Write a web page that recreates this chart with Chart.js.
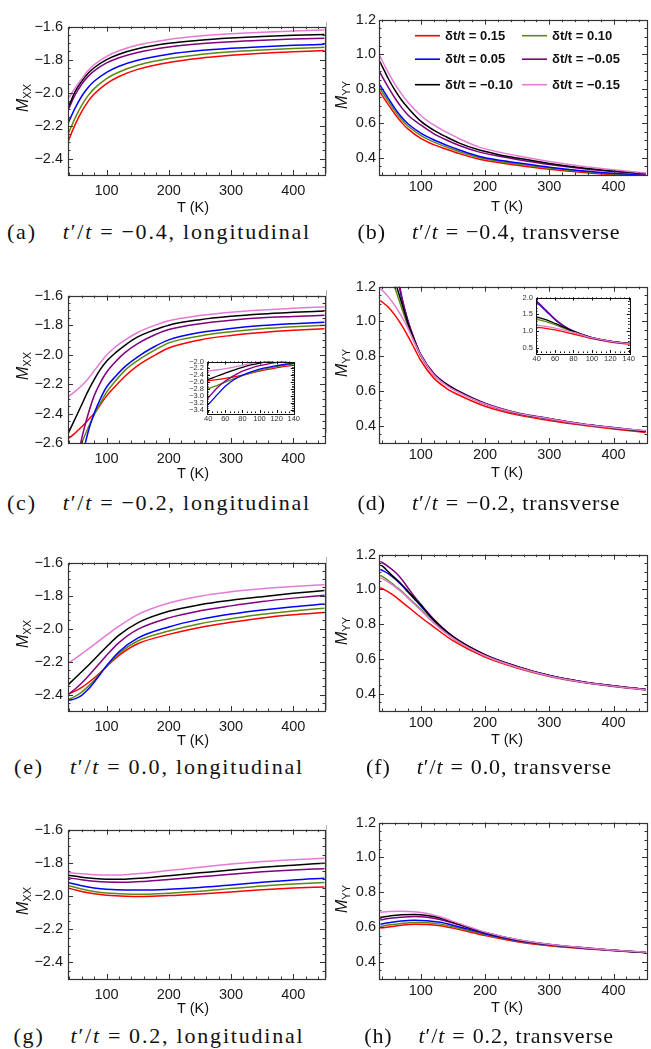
<!DOCTYPE html>
<html><head><meta charset="utf-8">
<script src="https://cdn.jsdelivr.net/npm/chart.js@4"></script>
<style>
html,body{margin:0;padding:0;background:#fff}
body{width:651px;height:1049px;position:relative;overflow:hidden;font-family:"Liberation Sans",Arial,sans-serif;color:#111}
canvas{position:absolute}
.cap{position:absolute;font-family:"Liberation Serif","Times New Roman",serif;font-size:22px;letter-spacing:0.9px;white-space:nowrap;transform:translate(-50%,-50%)}
.cap.wide{letter-spacing:1.8px}
.cap .lab{margin-right:26px}
.cap .eq{margin:0 7px}
.xl{position:absolute;font-size:14.5px;white-space:nowrap;transform:translate(-50%,-50%)}
.yl{position:absolute;font-size:16px;white-space:nowrap;transform:translate(-50%,-50%) rotate(-90deg)}
.yl sub{font-size:11px;font-style:normal;vertical-align:-3px}
.gl{position:absolute;width:1px;background:#b0b0b0}
</style></head><body>
<script>
// ---------- data ----------
const seriesLabels = ['δt/t = 0.15','δt/t = 0.10','δt/t = 0.05','δt/t = −0.05','δt/t = −0.10','δt/t = −0.15'];
const seriesColors = ['#ff0000','#5b8a12','#0000ff','#800080','#000000','#e67ad8'];

const xTicksMain = [100,200,300,400];
const xTicksInset = [40,60,80,100,120,140];
const yTicksXX = [-2.4,-2.2,-2.0,-1.8,-1.6];
const yTicksXXc = [-2.6,-2.4,-2.2,-2.0,-1.8,-1.6];
const yTicksYY = [0.4,0.6,0.8,1.0,1.2];
const yTicksInsetC = [-3.4,-3.2,-3.0,-2.8,-2.6,-2.4,-2.2,-2.0];
const yTicksInsetD = [0.5,1.0,1.5,2.0];

// (a) t'/t=-0.4 longitudinal
const T_a = [37,40,50,60,70,80,100,120,150,200,250,300,350,400,450];
const a_p15 = [-2.31,-2.28,-2.19,-2.116,-2.055,-2.009,-1.945,-1.902,-1.859,-1.817,-1.791,-1.774,-1.761,-1.752,-1.745];
const a_p10 = [-2.26,-2.235,-2.15,-2.078,-2.02,-1.976,-1.915,-1.875,-1.834,-1.793,-1.769,-1.752,-1.741,-1.732,-1.725];
const a_p05 = [-2.195,-2.17,-2.09,-2.022,-1.970,-1.931,-1.877,-1.840,-1.804,-1.767,-1.745,-1.731,-1.721,-1.713,-1.707];
const a_m05 = [-2.115,-2.09,-2.01,-1.949,-1.903,-1.868,-1.82,-1.788,-1.756,-1.723,-1.704,-1.691,-1.682,-1.675,-1.67];
const a_m10 = [-2.1,-2.075,-1.99,-1.931,-1.884,-1.849,-1.80,-1.767,-1.734,-1.701,-1.682,-1.669,-1.659,-1.652,-1.647];
const a_m15 = [-2.045,-2.027,-1.968,-1.917,-1.868,-1.831,-1.78,-1.746,-1.711,-1.677,-1.656,-1.643,-1.633,-1.626,-1.62];

// (b) t'/t=-0.4 transverse
const T_b = [35,40,50,60,70,80,100,120,140,160,190,220,250,300,350,400,450];
const b_p15 = [0.79,0.76,0.705,0.652,0.605,0.567,0.512,0.476,0.449,0.424,0.393,0.373,0.357,0.334,0.316,0.302,0.29];
const b_p10 = [0.811,0.781,0.724,0.67,0.622,0.584,0.53,0.492,0.462,0.435,0.401,0.38,0.364,0.34,0.321,0.306,0.294];
const b_p05 = [0.83,0.80,0.741,0.685,0.636,0.597,0.543,0.504,0.473,0.445,0.409,0.387,0.371,0.345,0.325,0.31,0.298];
const b_m05 = [0.905,0.87,0.805,0.745,0.692,0.648,0.59,0.54,0.503,0.471,0.434,0.41,0.39,0.361,0.338,0.32,0.305];
const b_m10 = [0.965,0.93,0.855,0.79,0.735,0.69,0.612,0.56,0.52,0.485,0.446,0.419,0.398,0.367,0.342,0.323,0.308];
const b_m15 = [1.0,0.962,0.89,0.825,0.77,0.722,0.645,0.59,0.548,0.51,0.463,0.434,0.411,0.378,0.351,0.33,0.312];

// (c) t'/t=-0.2 longitudinal
const T_c = [37,40,50,60,70,80,90,100,115,130,150,175,200,250,300,350,400,450];
const c_p15 = [-2.57,-2.565,-2.53,-2.49,-2.445,-2.4,-2.34,-2.28,-2.21,-2.145,-2.075,-2.01,-1.955,-1.9,-1.87,-1.85,-1.835,-1.824];
const c_p10 = [-2.85,-2.8,-2.7,-2.6,-2.5,-2.41,-2.33,-2.255,-2.175,-2.105,-2.04,-1.975,-1.92,-1.873,-1.845,-1.825,-1.811,-1.8];
const c_p05 = [-3.3,-3.25,-2.98,-2.72,-2.53,-2.4,-2.3,-2.22,-2.145,-2.08,-2.015,-1.95,-1.9,-1.85,-1.823,-1.803,-1.79,-1.78];
const c_m05 = [-3.1,-3.05,-2.78,-2.57,-2.41,-2.28,-2.19,-2.12,-2.045,-1.985,-1.925,-1.87,-1.83,-1.79,-1.766,-1.75,-1.741,-1.733];
const c_m10 = [-2.55,-2.52,-2.43,-2.34,-2.25,-2.17,-2.1,-2.045,-1.985,-1.935,-1.88,-1.835,-1.8,-1.763,-1.74,-1.724,-1.713,-1.704];
const c_m15 = [-2.29,-2.28,-2.248,-2.21,-2.165,-2.11,-2.055,-2.003,-1.945,-1.9,-1.85,-1.805,-1.77,-1.735,-1.712,-1.697,-1.686,-1.676];

// (d) t'/t=-0.2 transverse
const T_d = [37,40,50,60,70,80,90,100,120,140,160,200,250,300,350,400,450];
const d_p15 = [1.12,1.112,1.08,1.035,0.98,0.915,0.845,0.775,0.675,0.615,0.575,0.512,0.462,0.43,0.403,0.381,0.361];
const d_p10 = [1.37,1.35,1.28,1.19,1.08,0.975,0.88,0.8,0.695,0.635,0.592,0.524,0.47,0.438,0.408,0.386,0.366];
const d_p05 = [1.89,1.85,1.6,1.34,1.14,1.0,0.895,0.808,0.7,0.638,0.595,0.527,0.472,0.44,0.41,0.388,0.368];
const d_m05 = [1.93,1.89,1.63,1.36,1.15,1.005,0.898,0.81,0.702,0.64,0.597,0.529,0.474,0.441,0.411,0.389,0.369];
const d_m10 = [1.44,1.42,1.34,1.23,1.11,0.99,0.89,0.805,0.698,0.637,0.594,0.526,0.471,0.439,0.409,0.387,0.367];
const d_m15 = [1.19,1.18,1.14,1.09,1.03,0.96,0.88,0.805,0.695,0.632,0.59,0.525,0.472,0.44,0.41,0.388,0.37];

// (e) t'/t=0.0 longitudinal
const T_e = [37,50,60,70,80,90,100,120,150,200,250,300,350,400,450];
const e_p15 = [-2.40,-2.378,-2.357,-2.33,-2.3,-2.266,-2.23,-2.162,-2.092,-2.035,-1.993,-1.962,-1.935,-1.916,-1.902];
const e_p10 = [-2.433,-2.41,-2.385,-2.352,-2.315,-2.272,-2.228,-2.15,-2.075,-2.015,-1.97,-1.94,-1.913,-1.893,-1.876];
const e_p05 = [-2.437,-2.425,-2.405,-2.37,-2.325,-2.275,-2.225,-2.14,-2.058,-1.99,-1.944,-1.912,-1.887,-1.867,-1.851];
const e_m05 = [-2.404,-2.365,-2.33,-2.29,-2.248,-2.205,-2.162,-2.085,-2.005,-1.935,-1.892,-1.862,-1.836,-1.815,-1.797];
const e_m10 = [-2.345,-2.298,-2.262,-2.225,-2.187,-2.148,-2.11,-2.04,-1.965,-1.895,-1.855,-1.828,-1.806,-1.786,-1.769];
const e_m15 = [-2.213,-2.18,-2.153,-2.125,-2.097,-2.068,-2.04,-1.985,-1.915,-1.845,-1.803,-1.776,-1.758,-1.745,-1.734];

// (f) t'/t=0.0 transverse
const T_f = [37,40,50,60,70,80,90,100,120,150,200,250,300,350,400,450];
const f_p15 = [1.01,1.005,0.985,0.96,0.93,0.90,0.87,0.84,0.785,0.705,0.61,0.547,0.498,0.465,0.441,0.421];
const f_p10 = [1.08,1.075,1.05,1.02,0.99,0.955,0.92,0.885,0.81,0.72,0.618,0.552,0.502,0.467,0.443,0.423];
const f_p05 = [1.115,1.11,1.09,1.06,1.025,0.985,0.945,0.905,0.822,0.727,0.622,0.555,0.504,0.469,0.444,0.424];
const f_m05 = [1.16,1.155,1.13,1.10,1.06,1.01,0.96,0.915,0.83,0.73,0.625,0.557,0.505,0.47,0.445,0.425];
const f_m10 = [1.14,1.135,1.10,1.065,1.03,0.99,0.95,0.91,0.825,0.728,0.623,0.555,0.504,0.469,0.444,0.424];
const f_m15 = [1.067,1.062,1.04,1.015,0.985,0.95,0.915,0.88,0.808,0.72,0.618,0.552,0.502,0.467,0.443,0.423];

// (g) t'/t=0.2 longitudinal
const T_g = [37,60,80,100,130,160,200,250,300,350,400,450];
const g_p15 = [-1.951,-1.972,-1.986,-1.995,-2.001,-2.002,-1.997,-1.987,-1.975,-1.962,-1.952,-1.945];
const g_p10 = [-1.935,-1.957,-1.972,-1.982,-1.988,-1.989,-1.983,-1.971,-1.955,-1.939,-1.927,-1.918];
const g_p05 = [-1.918,-1.938,-1.951,-1.959,-1.964,-1.964,-1.959,-1.948,-1.933,-1.917,-1.903,-1.893];
const g_m05 = [-1.889,-1.902,-1.911,-1.916,-1.917,-1.912,-1.9,-1.884,-1.868,-1.854,-1.843,-1.835];
const g_m10 = [-1.874,-1.886,-1.894,-1.898,-1.898,-1.891,-1.877,-1.86,-1.843,-1.827,-1.814,-1.802];
const g_m15 = [-1.858,-1.866,-1.871,-1.873,-1.871,-1.862,-1.846,-1.826,-1.807,-1.792,-1.781,-1.772];

// (h) t'/t=0.2 transverse
const T_h = [37,50,70,90,110,130,150,175,200,250,300,350,400,450];
const h_p15 = [0.593,0.600,0.610,0.615,0.614,0.607,0.593,0.572,0.550,0.515,0.492,0.476,0.463,0.451];
const h_p10 = [0.603,0.611,0.620,0.625,0.624,0.616,0.601,0.579,0.556,0.519,0.495,0.478,0.464,0.452];
const h_p05 = [0.616,0.624,0.634,0.638,0.636,0.627,0.610,0.586,0.561,0.522,0.497,0.479,0.465,0.452];
const h_m05 = [0.640,0.648,0.656,0.660,0.656,0.643,0.622,0.594,0.566,0.525,0.499,0.480,0.465,0.453];
const h_m10 = [0.655,0.662,0.670,0.672,0.666,0.651,0.627,0.597,0.568,0.526,0.499,0.481,0.466,0.453];
const h_m15 = [0.684,0.688,0.690,0.687,0.677,0.658,0.632,0.600,0.570,0.527,0.500,0.481,0.466,0.454];

// ---------- drawing ----------
const fmt = v => (v < 0 ? '\u2212' : '') + Math.abs(v).toFixed(1);
const fmtInt = v => String(v);
function steps(a, b, s){ const r=[]; for(let v=a; v<=b+1e-9; v+=s) r.push(+v.toFixed(4)); return r; }

function makeFramePlugin(p){
  return {
    id: 'frame',
    beforeDatasetsDraw(chart){
      if(!p.bg) return;
      const c = chart.chartArea, ctx = chart.ctx;
      ctx.save(); ctx.fillStyle = '#fff'; ctx.fillRect(c.left, c.top, c.width, c.height); ctx.restore();
    },
    afterDatasetsDraw(chart){
      const ctx = chart.ctx, c = chart.chartArea, x = chart.scales.x, y = chart.scales.y;
      ctx.save();
      ctx.strokeStyle = p.frameColor; ctx.lineWidth = 1;
      ctx.beginPath();
      const doX = (vals, len) => vals.forEach(v => {
        const q = Math.round(x.getPixelForValue(v)) + 0.5;
        if (q < c.left - 0.1 || q > c.right + 0.1) return;
        ctx.moveTo(q, c.bottom); ctx.lineTo(q, c.bottom - len);
        ctx.moveTo(q, c.top); ctx.lineTo(q, c.top + len);
      });
      const doY = (vals, len) => vals.forEach(v => {
        const q = Math.round(y.getPixelForValue(v)) + 0.5;
        if (q < c.top - 0.1 || q > c.bottom + 0.1) return;
        ctx.moveTo(c.left, q); ctx.lineTo(c.left + len, q);
        ctx.moveTo(c.right, q); ctx.lineTo(c.right - len, q);
      });
      doX(p.xMinor, p.minLen); doX(p.xt, p.majLen);
      doY(p.yMinor, p.minLen); doY(p.yt, p.majLen);
      ctx.stroke();
      ctx.lineWidth = p.frameW;
      ctx.strokeRect(Math.round(c.left) + 0.5, Math.round(c.top) + 0.5, Math.round(c.right - c.left), Math.round(c.bottom - c.top));
      if (p.legend) {
        const L = p.legend;
        ctx.font = 'bold 13px "Liberation Sans", Arial, sans-serif';
        ctx.textBaseline = 'middle'; ctx.textAlign = 'left';
        seriesLabels.forEach((lab, i) => {
          const col = i % 2, row = Math.floor(i / 2);
          const lx = c.left + L.colX[col], ly = c.top + L.rowY[row];
          ctx.strokeStyle = seriesColors[i]; ctx.lineWidth = 1.6;
          ctx.beginPath(); ctx.moveTo(lx, ly); ctx.lineTo(lx + L.lineLen, ly); ctx.stroke();
          ctx.fillStyle = '#111';
          ctx.fillText(lab, lx + L.lineLen + L.gap, ly + 0.5);
        });
      }
      ctx.restore();
    }
  };
}

function makePanel(p){
  const padL = p.padL, padR = p.padR, padT = p.padT, padB = p.padB;
  const [L, T, R, B] = p.box;
  const cv = document.createElement('canvas');
  const W = (R - L) + padL + padR, H = (B - T) + padT + padB;
  cv.width = W; cv.height = H;
  cv.style.left = (L - padL) + 'px'; cv.style.top = (T - padT) + 'px';
  cv.style.width = W + 'px'; cv.style.height = H + 'px';
  document.body.appendChild(cv);
  const datasets = p.S.map((ys, i) => ({
    label: seriesLabels[i],
    data: p.T.map((t, j) => ({x: t, y: ys[j]})),
    borderColor: seriesColors[i],
    borderWidth: p.lw,
    pointRadius: 0,
    cubicInterpolationMode: 'monotone',
    fill: false,
    order: 5 - i
  }));
  const tickFont = { family: '"Liberation Sans", Arial, sans-serif', size: p.fs };
  new Chart(cv, {
    type: 'line',
    data: { datasets },
    options: {
      responsive: false, animation: false, devicePixelRatio: 1,
      layout: { padding: { left: 0, top: padT, right: padR, bottom: 0 } },
      plugins: { legend: { display: false }, tooltip: { enabled: false } },
      scales: {
        x: { type: 'linear', min: p.xr[0], max: p.xr[1],
             grid: { display: false, drawTicks: false }, border: { display: false },
             ticks: { autoSkip: false, maxRotation: 0, padding: p.xPad, color: p.tickColor, font: tickFont, callback: fmtInt },
             afterBuildTicks: s => { s.ticks = p.xt.map(v => ({ value: v })); },
             afterFit: s => { s.height = padB; } },
        y: { type: 'linear', min: p.yr[0], max: p.yr[1],
             grid: { display: false, drawTicks: false }, border: { display: false },
             ticks: { autoSkip: false, padding: p.yPad, color: p.tickColor, font: tickFont, callback: fmt },
             afterBuildTicks: s => { s.ticks = p.yt.map(v => ({ value: v })); },
             afterFit: s => { s.width = padL; } }
      }
    },
    plugins: [makeFramePlugin(p)]
  });
}

const mainBase = { padL: 62, padR: 4, padT: 8, padB: 26, lw: 1.5, fs: 14.5, majLen: 5, minLen: 2.5,
  xt: xTicksMain, xMinor: steps(40, 440, 20), tickColor: '#1a1a1a', frameColor: '#333', frameW: 1.2 };
const leftCol = Object.assign({}, mainBase, { xr: [38, 451], xPad: 7, yPad: 5 });
const rightCol = Object.assign({}, mainBase, { xr: [35, 452], xPad: 3, yPad: 3, yt: yTicksYY, yr: [0.3, 1.2], yMinor: steps(0.3, 1.2, 0.05) });
const xxBase = Object.assign({}, leftCol, { yt: yTicksXX, yr: [-2.5, -1.6], yMinor: steps(-2.5, -1.6, 0.05) });

makePanel(Object.assign({}, xxBase, { box: [68, 21, 325, 175], T: T_a, S: [a_p15, a_p10, a_p05, a_m05, a_m10, a_m15] }));
makePanel(Object.assign({}, rightCol, { box: [379, 16, 647, 175], T: T_b, S: [b_p15, b_p10, b_p05, b_m05, b_m10, b_m15],
  legend: { colX: [36, 143], rowY: [16, 39.5, 65], lineLen: 25, gap: 5 } }));
makePanel(Object.assign({}, leftCol, { box: [68, 290, 325, 443], yt: yTicksXXc, yr: [-2.6, -1.6], yMinor: steps(-2.6, -1.6, 0.05),
  T: T_c, S: [c_p15, c_p10, c_p05, c_m05, c_m10, c_m15] }));
makePanel(Object.assign({}, rightCol, { box: [379, 283, 647, 443], T: T_d, S: [d_p15, d_p10, d_p05, d_m05, d_m10, d_m15] }));
makePanel(Object.assign({}, xxBase, { box: [68, 557, 325, 711], T: T_e, S: [e_p15, e_p10, e_p05, e_m05, e_m10, e_m15] }));
makePanel(Object.assign({}, rightCol, { box: [379, 551, 647, 711], T: T_f, S: [f_p15, f_p10, f_p05, f_m05, f_m10, f_m15] }));
makePanel(Object.assign({}, xxBase, { box: [68, 824, 325, 979], T: T_g, S: [g_p15, g_p10, g_p05, g_m05, g_m10, g_m15] }));
makePanel(Object.assign({}, rightCol, { box: [379, 819, 647, 979], T: T_h, S: [h_p15, h_p10, h_p05, h_m05, h_m10, h_m15] }));

// insets
const insetBase = { padL: 22, padR: 2, padT: 4, padB: 14, lw: 1.3, fs: 7.5, majLen: 3, minLen: 1.5,
  xt: xTicksInset, xMinor: steps(40, 140, 5), tickColor: '#333', frameColor: '#111', frameW: 1, bg: true, xPad: 1, yPad: 3 };
makePanel(Object.assign({}, insetBase, { box: [207, 358, 299, 413], xr: [38.6, 140], yr: [-3.5, -2.0], yt: yTicksInsetC,
  yMinor: steps(-3.5, -2.0, 0.05), T: T_c, S: [c_p15, c_p10, c_p05, c_m05, c_m10, c_m15] }));
makePanel(Object.assign({}, insetBase, { box: [536, 294, 634, 353], xr: [39.3, 141], yr: [0.35, 2.0], yt: yTicksInsetD,
  yMinor: steps(0.4, 2.0, 0.1), T: T_d, S: [d_p15, d_p10, d_p05, d_m05, d_m10, d_m15] }));

// ---------- text ----------
function addDiv(cls, html, x, y){ const d = document.createElement('div'); d.className = cls; d.innerHTML = html; d.style.left = x + 'px'; d.style.top = y + 'px'; document.body.appendChild(d); }
const rowsY = [[98, 95], [366, 363], [634, 631], [901, 899]];
const capY = [232, 503, 767, 1036];
const xlY = [207, 473, 740, 1008];
const yLabXX = '<i>M</i><sub>XX</sub>', yLabYY = '<i>M</i><sub>YY</sub>';
const caps = [
  ['(a)', '−0.4', 'longitudinal'], ['(b)', '−0.4', 'transverse'],
  ['(c)', '−0.2', 'longitudinal'], ['(d)', '−0.2', 'transverse'],
  ['(e)', '0.0', 'longitudinal'], ['(f)', '0.0', 'transverse'],
  ['(g)', '0.2', 'longitudinal'], ['(h)', '0.2', 'transverse']
];
const capHtml = c => '<span class="lab">' + c[0] + '</span><i>t</i>′/<i>t</i><span class="eq">=</span>' + c[1] + ', ' + c[2];
for (let r = 0; r < 4; r++) {
  addDiv('yl', yLabXX, 23, rowsY[r][0]);
  addDiv('yl', yLabYY, 342, rowsY[r][1]);
  addDiv('xl', 'T (K)', 193, xlY[r]);
  addDiv('xl', 'T (K)', 507, xlY[r] - 1);
  addDiv('cap wide', capHtml(caps[2*r]), 159, capY[r]);
  addDiv('cap', capHtml(caps[2*r+1]), 489, capY[r]);
}
[[22, 173], [290, 433], [557, 710], [825, 978]].forEach(([a, b]) => {
  const d = document.createElement('div'); d.className = 'gl'; d.style.left = '326px'; d.style.top = a + 'px'; d.style.height = (b - a) + 'px'; document.body.appendChild(d);
});
</script>
</body></html>
